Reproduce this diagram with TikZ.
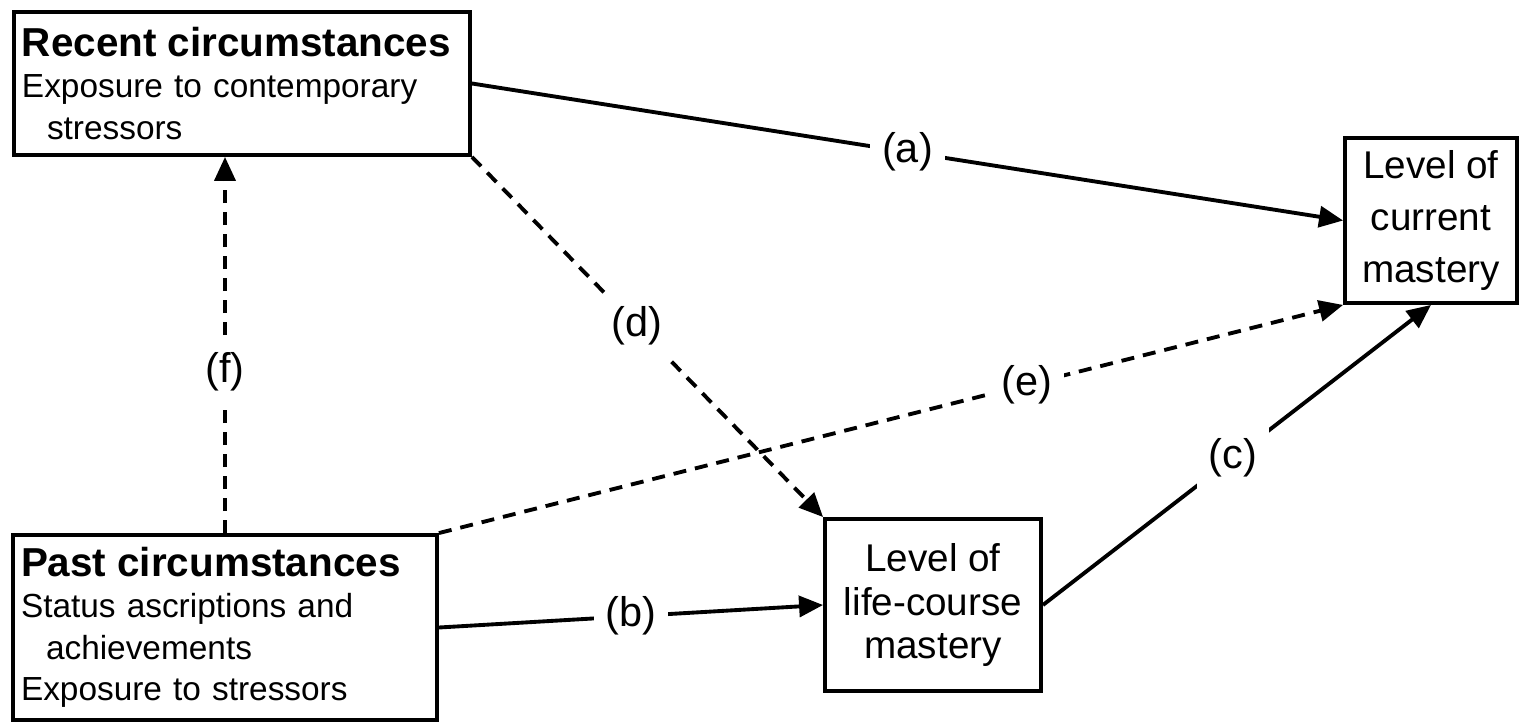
\documentclass[tikz,border=0pt]{standalone}
\usepackage{fontspec}
\setmainfont{Liberation Sans}
\usetikzlibrary{arrows.meta}

\begin{document}
\begin{tikzpicture}[>={Triangle[length=0.24cm,width=0.21cm]},line width=1.1pt,
		circbox/.style={draw,inner xsep=0.08cm,align=left,font=\fontsize{9.5}{11.8}\selectfont},
		levelbox/.style={draw,inner sep=0.05cm,align=center},
		lbl/.style={fill=white,inner sep=0.12cm,font=\fontsize{11.8}{13}\selectfont},
		maybe/.style={->,dash pattern=on 0.13cm off 0.09cm}]
	\useasboundingbox (0,0) rectangle (15.19,7.24);
	% circumstances
	\node[circbox,minimum width=4.56cm,minimum height=1.43cm,text width=4.40cm] (recent) at (2.42,6.405)
		{{\bfseries\fontsize{11.5}{13}\selectfont Recent circumstances}\\Exposure to contemporary\\\hspace*{0.25cm}stressors};
	\node[circbox,minimum width=4.24cm,minimum height=1.85cm,text width=4.08cm] (past) at (2.25,0.965)
		{{\bfseries\fontsize{11.5}{13}\selectfont Past circumstances}\\Status ascriptions and\\\hspace*{0.25cm}achievements\\Exposure to stressors};
	% mastery
	\node[levelbox,minimum width=1.72cm,minimum height=1.65cm,font=\fontsize{11}{14.8}\selectfont] (current) at (14.31,5.035)
		{Level of\\current\\mastery};
	\node[levelbox,minimum width=2.16cm,minimum height=1.72cm,font=\fontsize{11}{12.5}\selectfont] (life) at (9.33,1.19)
		{Level of\\life-course\\mastery};
	% paths
	\draw[->] (recent.east) -- node[lbl,pos=0.5]{(a)} (current.west);
	\draw[->] (past.east) -- node[lbl,pos=0.5]{(b)} (life.west);
	\draw[->] (life.east) -- node[lbl,pos=0.49]{(c)} (current.south);
	\draw[maybe] (recent.south east) -- node[lbl,pos=0.47]{(d)} (life.north west);
	\draw[maybe] (past.north east) -- node[lbl,pos=0.65]{(e)} (current.south west);
	\draw[maybe] (past.north) -- node[lbl,pos=0.43]{(f)} (past.north |- recent.south);
\end{tikzpicture}
\end{document}
